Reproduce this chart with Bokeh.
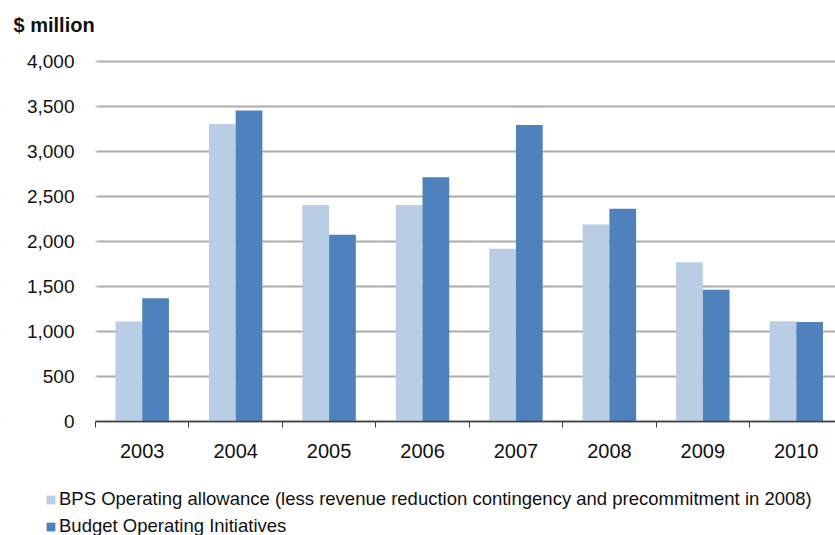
from bokeh.plotting import figure
from bokeh.models import (Range1d, FixedTicker, NumeralTickFormatter, Legend, LegendItem,
                          ColumnDataSource, BoxAnnotation, Label)
from bokeh.transform import dodge
from bokeh.embed import file_html
from bokeh.resources import INLINE

years = ["2003", "2004", "2005", "2006", "2007", "2008", "2009", "2010"]
bps_allowance = [1110, 3305, 2405, 2405, 1920, 2190, 1770, 1115]
budget_initiatives = [1370, 3455, 2075, 2715, 3295, 2365, 1465, 1105]
y_ticks = [0, 500, 1000, 1500, 2000, 2500, 3000, 3500, 4000]
series_names = ["BPS Operating allowance (less revenue reduction contingency and precommitment in 2008)",
                "Budget Operating Initiatives"]
unit_label = "$ million"

FONT = "Liberation Sans"
LIGHT = "#B9CDE5"
DARK = "#4F81BD"
TXT = "#111111"

W, H = 835, 535
# pixel layout of the plotting region inside the canvas
PX_L, PX_T, PX_B = 95, 61, 421
X_END = 7.92
ppx = (W - PX_L) / X_END            # pixels per category unit
ppy = (PX_B - PX_T) / 4000          # pixels per $ million
x_start = -PX_L / ppx
y_start = -(H - PX_B) / ppy
y_end = 4000 + PX_T / ppy

centers = [i + 0.5 for i in range(len(years))]
src = ColumnDataSource(dict(x=centers, a=bps_allowance, b=budget_initiatives))

p = figure(width=W, height=H, output_backend="svg", toolbar_location=None,
           x_range=Range1d(x_start, X_END), y_range=Range1d(y_start, y_end),
           min_border=0)
p.outline_line_color = None
p.background_fill_color = "white"
p.border_fill_color = "white"

r1 = p.vbar(x=dodge("x", -0.143), top="a", width=0.286, source=src, fill_color=LIGHT, line_color=None)
r2 = p.vbar(x=dodge("x", 0.143), top="b", width=0.286, source=src, fill_color=DARK, line_color=None)

# grid: horizontal lines only over the category region
p.xgrid.grid_line_color = None
p.ygrid.ticker = FixedTicker(ticks=y_ticks)
p.ygrid.grid_line_color = "#ABABAB"
p.ygrid.grid_line_width = 2
p.add_layout(BoxAnnotation(left=x_start - 0.5, right=0, fill_color="white", fill_alpha=1,
                           line_color="white", line_width=6, level="underlay"))

# y axis, fixed at x = 0
p.yaxis.fixed_location = 0
p.yaxis.ticker = FixedTicker(ticks=y_ticks)
p.yaxis.formatter = NumeralTickFormatter(format="0,0")
p.yaxis.axis_line_color = None
p.yaxis.major_tick_line_color = None
p.yaxis.minor_tick_line_color = None
p.yaxis.major_label_text_font = FONT
p.yaxis.major_label_text_font_size = "19px"
p.yaxis.major_label_text_color = TXT
p.yaxis.major_label_standoff = 15

# x axis, fixed at y = 0
p.xaxis.fixed_location = 0
p.xaxis.ticker = FixedTicker(ticks=centers, minor_ticks=list(range(0, 9)))
p.xaxis.major_label_overrides = {c: y for c, y in zip(centers, years)}
p.xaxis.major_tick_out = 0
p.xaxis.major_tick_in = 0
p.xaxis.minor_tick_out = 6
p.xaxis.minor_tick_in = 0
p.xaxis.minor_tick_line_color = "#404040"
p.xaxis.axis_line_color = "#404040"
p.xaxis.axis_line_width = 1.5
p.xaxis.bounds = (0, X_END)
p.xaxis.major_label_text_font = FONT
p.xaxis.major_label_text_font_size = "20px"
p.xaxis.major_label_text_color = TXT
p.xaxis.major_label_standoff = 16

p.add_layout(Label(x=13, y=H - 24, x_units="screen", y_units="screen", text=unit_label,
                   text_font=FONT, text_font_size="20px", text_font_style="bold",
                   text_color=TXT, text_baseline="middle"))

legend = Legend(items=[LegendItem(label=series_names[0], renderers=[r1]),
                       LegendItem(label=series_names[1], renderers=[r2])],
                orientation="vertical", location=(45, -2),
                border_line_alpha=0, background_fill_alpha=0,
                label_text_font=FONT, label_text_font_size="18.5px", label_text_color=TXT,
                glyph_width=11, glyph_height=11, label_standoff=3,
                spacing=5, padding=0, margin=0)
p.add_layout(legend, "center")

open("out.html", "w").write(file_html(p, INLINE))
